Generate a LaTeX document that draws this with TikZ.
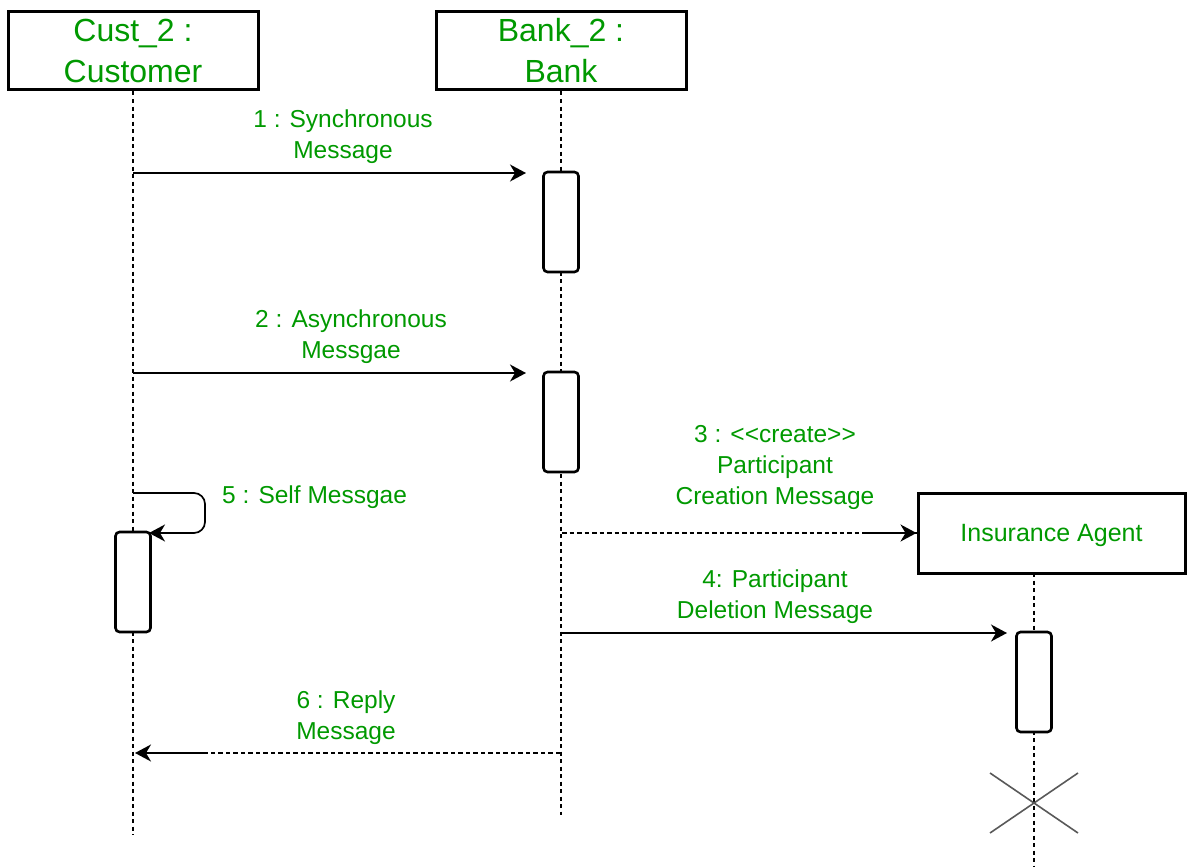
\documentclass[tikz,border=0pt]{standalone}
\usepackage{fontspec}
\setmainfont{Liberation Sans}
\usetikzlibrary{arrows.meta,calc}
\definecolor{lblgreen}{RGB}{0,153,0}
\tikzset{
  objbox/.style={draw=black, line width=3pt, fill=white, minimum width=250pt, minimum height=78pt,
    align=center, text=lblgreen, font=\fontsize{32}{41}\selectfont, inner sep=0pt},
  actbar/.style={draw=black, line width=2.6pt, fill=white, rounded corners=4pt,
    minimum width=35pt, minimum height=100pt, inner sep=0pt},
  lifeline/.style={draw=black, line width=1.1pt, dash pattern=on 4pt off 3.5pt},
  msg/.style={draw=black, line width=1.7pt, -{Stealth[length=16pt,width=17pt,inset=5pt]}},
  retmsg/.style={draw=black, line width=1.4pt, dash pattern=on 4.5pt off 3pt},
  lbl/.style={text=lblgreen, align=center, font=\fontsize{24.5}{31}\selectfont, inner sep=0pt},
  destroy/.style={draw=black!65, line width=1.6pt}
}
\begin{document}
\begin{tikzpicture}[x=1pt,y=-1pt]
\useasboundingbox (0,0) rectangle (1192,867);

% participants
\node[objbox] (cust) at (133,51) {Cust\_2 :\\Customer};
\node[objbox] (bank) at (561,51) {Bank\_2 :\\Bank};
\node[objbox, minimum width=267pt, minimum height=80pt, text depth=0pt,
      font=\fontsize{25}{31}\selectfont] (agent) at (1051.5,533) {Insurance Agent};

% lifeline ends
\coordinate (custend) at (133,835);
\coordinate (bankend) at (561,815);
\coordinate (agentend) at (1034,867);
\coordinate (agenttop) at (1034,573);

\draw[lifeline] (cust.south) -- (custend);
\draw[lifeline] (bank.south) -- (bankend);
\draw[lifeline] (agenttop) -- (agentend);

% activation bars
\node[actbar] (act1) at (561,222) {};
\node[actbar] (act2) at (561,422) {};
\node[actbar] (act5) at (133,582) {};
\node[actbar] (act4) at (1034,682) {};

% 1 : synchronous message
\coordinate (m1a) at (133,173);
\coordinate (m1b) at (526,173);
\draw[msg] (m1a) -- (m1b);
\node[lbl] (l1) at (343,137) {1 : Synchronous\\Message};

% 2 : asynchronous message
\coordinate (m2a) at (133,373);
\coordinate (m2b) at (526,373);
\draw[msg] (m2a) -- (m2b);
\node[lbl] (l2) at (351,337) {2 : Asynchronous\\Messgae};

% 3 : creation message
\coordinate (m3a) at (562,533);
\coordinate (m3c) at (862,533);
\draw[retmsg] (m3a) -- (agent.west);
\draw[msg] (m3c) -- (agent.west);
\node[lbl] (l3) at (775,467) {3 : <{}<create>{}>\\Participant\\Creation Message};

% 4 : deletion message
\coordinate (m4a) at (562,633);
\coordinate (m4b) at (1007,633);
\draw[msg] (m4a) -- (m4b);
\node[lbl] (l4) at (775,597) {4: Participant\\Deletion Message};

% 5 : self message
\coordinate (m5a) at (133,493);
\coordinate (m5b) at (205,493);
\coordinate (m5c) at (205,533);
\coordinate (m5d) at (149,533);
\draw[msg, rounded corners=11pt] (m5a) -- (m5b) -- (m5c) -- (m5d);
\node[lbl, anchor=west] (l5) at (222,497) {5 : Self Messgae};

% 6 : reply message
\coordinate (m6a) at (560,753);
\coordinate (m6b) at (205,753);
\coordinate (m6c) at (135,753);
\draw[retmsg] (m6a) -- (m6b);
\draw[msg] (m6b) -- (m6c);
\node[lbl] (l6) at (346,718) {6 : Reply\\Message};

% destruction mark
\coordinate (xc) at (1034,803);
\draw[destroy] ($(xc)+(-44,-30)$) -- ($(xc)+(44,30)$);
\draw[destroy] ($(xc)+(-44,30)$) -- ($(xc)+(44,-30)$);
\end{tikzpicture}
\end{document}
